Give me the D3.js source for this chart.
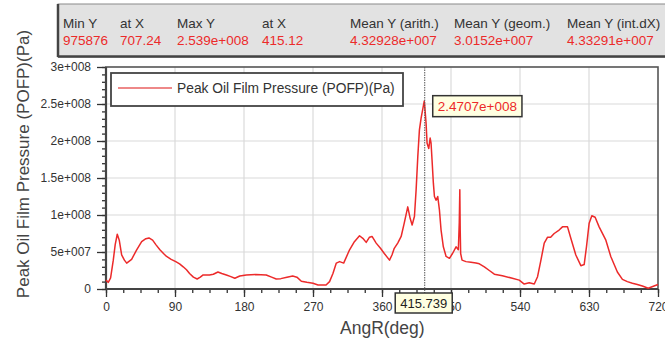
<!DOCTYPE html>
<html>
<head>
<meta charset="utf-8">
<script src="https://cdn.jsdelivr.net/npm/d3@7"></script>
<style>
  html, body { margin: 0; padding: 0; background: #fff; }
  svg { display: block; font-family: "Liberation Sans", Arial, sans-serif; }
</style>
</head>
<body>
<svg id="chart" width="665" height="342"></svg>
<script>
// ---------------- data ----------------
const angles = [0,3,6,9.5,12,14.7,17.3,20.4,24,27,33.4,40,46.5,52,56,60.8,65,70.3,75,79,85,91,96,100.7,105,109,114,118.9,123,126.7,135,140,146,151,157,162,168,174.5,183,195,209,216,222,228,236,243.5,249,254.8,262,270,276.5,287,291.6,296,300.4,304.7,310,317.7,324,330.7,335,339.4,343.7,347,352.4,358,363,369.8,373,376,380.5,385,389,393.6,396.7,399.3,402.3,404.5,406.7,408.8,411,413,415.12,415.739,417.5,418.8,421,422.8,424,425.3,427,428.4,430.5,432.7,434.9,437,440,443.6,448,452,456.6,459.6,460.8,461.5,462,462.6,464.4,469.6,476,482.6,487,493.5,500,506.5,517,530,539,545.5,552,558.6,562.9,567.3,571.6,576,580,584.6,591,595.4,602,606.3,612.8,619.4,623.7,626.7,630.2,633.7,638,643.2,652,658.4,667,673.6,680,686.6,693,699.6,707.24,714.8,720];
const pofp = [1.2e7,0.9e7,1.5e7,3.9e7,6.0e7,7.4e7,6.6e7,4.6e7,3.9e7,3.5e7,4.0e7,5.3e7,6.4e7,6.8e7,6.9e7,6.6e7,6.0e7,5.3e7,4.8e7,4.4e7,4.0e7,3.7e7,3.4e7,3.0e7,2.6e7,2.1e7,1.6e7,1.35e7,1.6e7,1.9e7,1.9e7,2.0e7,2.3e7,2.1e7,1.9e7,1.7e7,1.45e7,1.75e7,1.9e7,1.95e7,1.9e7,1.6e7,1.35e7,1.4e7,1.6e7,1.75e7,1.6e7,1.05e7,0.9e7,0.77e7,0.55e7,0.54e7,1.0e7,2.1e7,3.5e7,3.7e7,3.5e7,5.3e7,6.4e7,7.2e7,6.85e7,6.3e7,7.0e7,7.1e7,6.2e7,5.5e7,4.8e7,3.9e7,4.6e7,5.5e7,6.2e7,7.1e7,8.9e7,1.11e8,9.55e7,8.65e7,9.8e7,1.34e8,1.79e8,2.15e8,2.31e8,2.42e8,2.539e8,2.4707e8,2.24e8,1.97e8,1.9e8,2.04e8,1.97e8,1.74e8,1.43e8,1.25e8,1.2e8,1.25e8,1.07e8,8.0e7,5.7e7,4.4e7,4.15e7,4.8e7,5.7e7,5.3e7,9.0e7,1.34e8,8.0e7,4.8e7,3.9e7,3.7e7,3.6e7,3.5e7,3.4e7,3.0e7,2.5e7,2.0e7,1.8e7,1.45e7,1.2e7,0.67e7,0.85e7,0.67e7,1.66e7,3.9e7,6.2e7,7.0e7,7.0e7,7.5e7,7.97e7,8.4e7,8.4e7,6.85e7,4.6e7,3.15e7,3.3e7,5.7e7,8.9e7,9.9e7,9.7e7,8.4e7,6.6e7,4.4e7,2.3e7,1.3e7,1.0e7,0.77e7,0.6e7,0.4e7,975876,0.4e7,0.6e7];

const xTickValues = [0,90,180,270,360,450,540,630,720];
const xTickLabels = ["0","90","180","270","360","450","540","630","720"];
const yTickValues = [0,5e7,1e8,1.5e8,2e8,2.5e8,3e8];
const yTickLabels = ["0","5e+007","1e+008","1.5e+008","2e+008","2.5e+008","3e+008"];

const statHeaders = ["Min Y","at X","Max Y","at X","Mean Y (arith.)","Mean Y (geom.)","Mean Y (int.dX)"];
const statValues  = ["975876","707.24","2.539e+008","415.12","4.32928e+007","3.0152e+007","4.33291e+007"];

const seriesName = "Peak Oil Film Pressure (POFP)(Pa)";
const xTitle = "AngR(deg)";
const yTitle = "Peak Oil Film Pressure (POFP)(Pa)";
const cursorX = 415.739;
const cursorY = 2.4707e8;
const cursorXLabel = "415.739";
const cursorYLabel = "2.4707e+008";

// ---------------- layout ----------------
const svg = d3.select("#chart");
const L = 106, R = 658, T = 67, B = 289;
const x = d3.scaleLinear().domain([0,720]).range([L,R]);
const y = d3.scaleLinear().domain([0,3e8]).range([B,T]);
const red = "#ec2a2a";

// stats box
const statX = [63,120,177,262,350,454,567];
const sb = svg.append("g");
sb.append("rect").attr("x",58).attr("y",4).attr("width",640).attr("height",53)
  .attr("fill","#e2e2e2").attr("stroke","#8a8a8a").attr("stroke-width",1);
sb.append("line").attr("x1",58).attr("x2",58).attr("y1",4).attr("y2",57).attr("stroke","#444").attr("stroke-width",2.5);
sb.append("line").attr("x1",58).attr("x2",665).attr("y1",56.5).attr("y2",56.5).attr("stroke","#444").attr("stroke-width",2.5);
statHeaders.forEach((h,i)=>{
  sb.append("text").attr("x",statX[i]).attr("y",28).attr("font-size",13.5).attr("fill","#333").text(h);
  sb.append("text").attr("x",statX[i]).attr("y",45).attr("font-size",13.5).attr("fill",red).text(statValues[i]);
});

// grid
const grid = svg.append("g");
grid.selectAll("line.gx").data(xTickValues.filter(v=>v>0 && v<720)).enter().append("line")
  .attr("x1",d=>x(d)).attr("x2",d=>x(d)).attr("y1",T).attr("y2",B)
  .attr("stroke","#dadada").attr("stroke-width",1.2);
grid.selectAll("line.gy").data(yTickValues.filter(v=>v>0 && v<3e8)).enter().append("line")
  .attr("x1",L).attr("x2",R).attr("y1",d=>y(d)).attr("y2",d=>y(d))
  .attr("stroke","#dadada").attr("stroke-width",1.2);

// frame
svg.append("rect").attr("x",L).attr("y",T).attr("width",R-L).attr("height",B-T)
  .attr("fill","none").attr("stroke","#555").attr("stroke-width",1.6);

// minor ticks
const minorY = d3.axisLeft(y).tickValues(d3.range(0,3e8+1,1e7)).tickSize(4).tickFormat("");
const gmy = svg.append("g").attr("transform",`translate(${L},0)`).call(minorY);
const minorX = d3.axisBottom(x).tickValues(d3.range(0,720.1,22.5)).tickSize(4).tickFormat("");
const gmx = svg.append("g").attr("transform",`translate(0,${B})`).call(minorX);
[gmy,gmx].forEach(g=>{ g.select(".domain").remove(); g.selectAll("line").attr("stroke","#333").attr("stroke-width",1.3); });

// major axes
const yAxis = d3.axisLeft(y).tickValues(yTickValues).tickSize(9).tickPadding(6)
  .tickFormat((d,i)=>yTickLabels[i]);
const gy = svg.append("g").attr("transform",`translate(${L},0)`).call(yAxis);
const xAxis = d3.axisBottom(x).tickValues(xTickValues).tickSize(8).tickPadding(5)
  .tickFormat((d,i)=>xTickLabels[i]);
const gx = svg.append("g").attr("transform",`translate(0,${B})`).call(xAxis);
[gy,gx].forEach(g=>{
  g.select(".domain").remove();
  g.selectAll("line").attr("stroke","#333").attr("stroke-width",1.3);
  g.selectAll("text").attr("font-size",12).attr("fill","#333")
    .attr("font-family","'Liberation Sans', Arial, sans-serif");
});

// axis lines
svg.append("line").attr("x1",L).attr("x2",L).attr("y1",T).attr("y2",B).attr("stroke","#444").attr("stroke-width",2.2);
svg.append("line").attr("x1",L).attr("x2",R).attr("y1",B).attr("y2",B).attr("stroke","#444").attr("stroke-width",2.2);

// series
const pts = angles.map((a,i)=>[a,pofp[i]]);
svg.append("path").datum(pts)
  .attr("d", d3.line().x(d=>x(d[0])).y(d=>y(d[1])))
  .attr("fill","none").attr("stroke",red).attr("stroke-width",1.5).attr("stroke-linejoin","round");

// legend
const lg = svg.append("g");
lg.append("rect").attr("x",111).attr("y",73).attr("width",292).attr("height",33)
  .attr("fill","#fff").attr("stroke","#444").attr("stroke-width",1.8);
lg.append("line").attr("x1",118).attr("x2",172).attr("y1",88).attr("y2",88)
  .attr("stroke","#e86060").attr("stroke-width",1.6);
lg.append("text").attr("x",177).attr("y",93).attr("font-size",13.8).attr("fill","#333").text(seriesName);

// cursor
const cx = x(cursorX), cy = y(cursorY);
svg.append("line").attr("x1",cx).attr("x2",cx).attr("y1",T).attr("y2",B+4)
  .attr("stroke","#555").attr("stroke-width",1).attr("stroke-dasharray","1.5,1");
// y readout
const yl = svg.append("g");
const ylText = yl.append("text").attr("x",cx+13).attr("y",cy+5).attr("font-size",13.5).attr("fill",red).text(cursorYLabel);
const yb = ylText.node().getBBox();
yl.insert("rect","text").attr("x",yb.x-5).attr("y",cy-10.5).attr("width",yb.width+10).attr("height",21)
  .attr("fill","#ffffe1").attr("stroke","#333").attr("stroke-width",1.5);
// x readout
const xl = svg.append("g");
const xlText = xl.append("text").attr("x",cx-1).attr("y",308).attr("text-anchor","middle").attr("font-size",13).attr("fill","#222").text(cursorXLabel);
const xb = xlText.node().getBBox();
xl.insert("rect","text").attr("x",xb.x-5).attr("y",293).attr("width",xb.width+10).attr("height",20)
  .attr("fill","#ffffe1").attr("stroke","#333").attr("stroke-width",1.5);

// titles
svg.append("text").attr("x",340).attr("y",334).attr("font-size",17.5).attr("fill","#444").text(xTitle);
svg.append("text").attr("transform","translate(29,164) rotate(-90)").attr("text-anchor","middle")
  .attr("font-size",17).attr("fill","#444").text(yTitle);
</script>
</body>
</html>
